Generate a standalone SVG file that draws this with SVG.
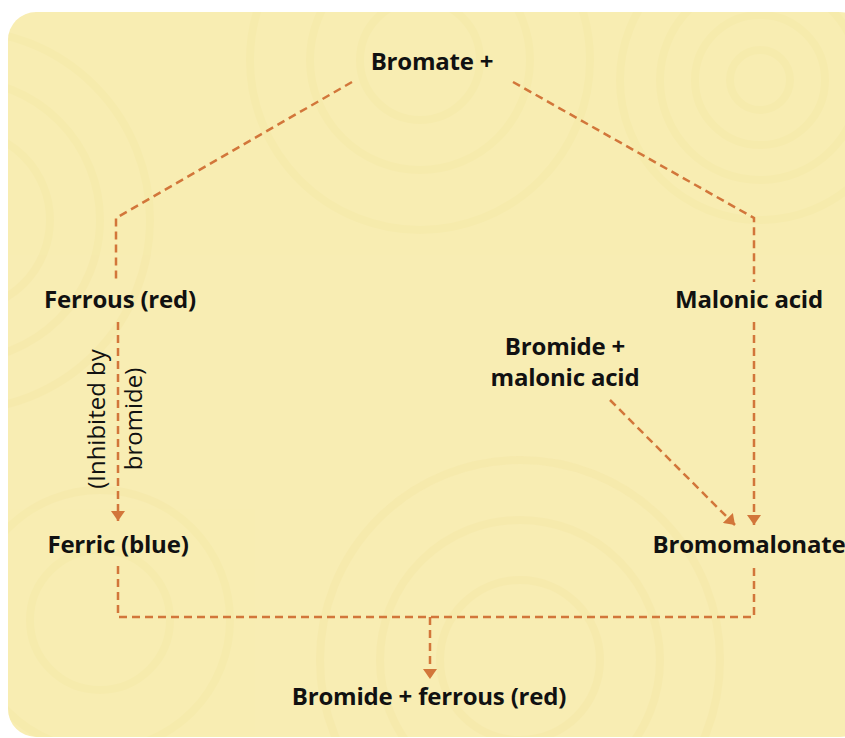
<svg xmlns="http://www.w3.org/2000/svg" width="845" height="738" viewBox="0 0 845 738">
<defs>
<style>
.t{font-family:"Open Sans",Lato,"Liberation Sans",sans-serif;font-weight:700;font-size:24px;fill:#111;text-anchor:middle;letter-spacing:-0.2px}
.r{font-family:"Open Sans",Lato,"Liberation Sans",sans-serif;font-weight:400;font-size:24px;fill:#111;text-anchor:middle}
.c{fill:none;stroke:#d2763a;stroke-width:2.5;stroke-dasharray:8 5}
.sw{fill:none;stroke:#f2e197;stroke-width:8;opacity:0.22}
</style>
<marker id="ah" viewBox="0 0 10 14" refX="10" refY="7" markerWidth="10" markerHeight="14" markerUnits="userSpaceOnUse" orient="auto">
<path d="M0,0 L10,7 L0,14 z" fill="#d2763a"/>
</marker>
<clipPath id="bgc"><rect x="8" y="12" width="860" height="725" rx="28"/></clipPath>
</defs>
<rect x="0" y="0" width="845" height="738" fill="#ffffff"/>
<rect x="8" y="12" width="860" height="725" rx="28" fill="#f8edb3"/>
<g clip-path="url(#bgc)">
<g class="sw">
<circle cx="760" cy="80" r="30"/><circle cx="760" cy="80" r="65"/><circle cx="760" cy="80" r="100"/><circle cx="760" cy="80" r="140"/>
<circle cx="420" cy="60" r="60"/><circle cx="420" cy="60" r="110"/><circle cx="420" cy="60" r="170"/>
<circle cx="-40" cy="220" r="90"/><circle cx="-40" cy="220" r="140"/><circle cx="-40" cy="220" r="190"/>
<circle cx="520" cy="660" r="80"/><circle cx="520" cy="660" r="140"/><circle cx="520" cy="660" r="200"/>
<circle cx="100" cy="620" r="70"/><circle cx="100" cy="620" r="130"/>
</g>
</g>
<g id="connectors">
<polyline class="c" points="352,82 116,218 116,282"/>
<polyline class="c" points="513,82 754,218 754,282"/>
<line class="c" x1="118" y1="322" x2="118" y2="521" marker-end="url(#ah)"/>
<line class="c" x1="754" y1="322" x2="754" y2="525" marker-end="url(#ah)"/>
<line class="c" x1="610" y1="400" x2="735" y2="525" marker-end="url(#ah)"/>
<polyline class="c" points="118,566 118,617 754,617 754,566"/>
<line class="c" x1="430" y1="617" x2="430" y2="679" marker-end="url(#ah)"/>
</g>
<g id="bromate"><text class="t" x="432" y="70">Bromate +</text></g>
<g id="ferrous"><text class="t" x="120" y="308">Ferrous (red)</text></g>
<g id="malonic"><text class="t" x="749" y="308">Malonic acid</text></g>
<g id="bromide-malonic"><text class="t" x="565" y="355">Bromide +</text><text class="t" x="565" y="386">malonic acid</text></g>
<g id="inhibited"><text class="r" transform="translate(105,419) rotate(-90)">(Inhibited by</text><text class="r" transform="translate(142,419) rotate(-90)">bromide)</text></g>
<g id="ferric"><text class="t" x="118" y="553">Ferric (blue)</text></g>
<g id="bromomalonate"><text class="t" x="749" y="553">Bromomalonate</text></g>
<g id="product"><text class="t" x="429" y="705">Bromide + ferrous (red)</text></g>
</svg>
